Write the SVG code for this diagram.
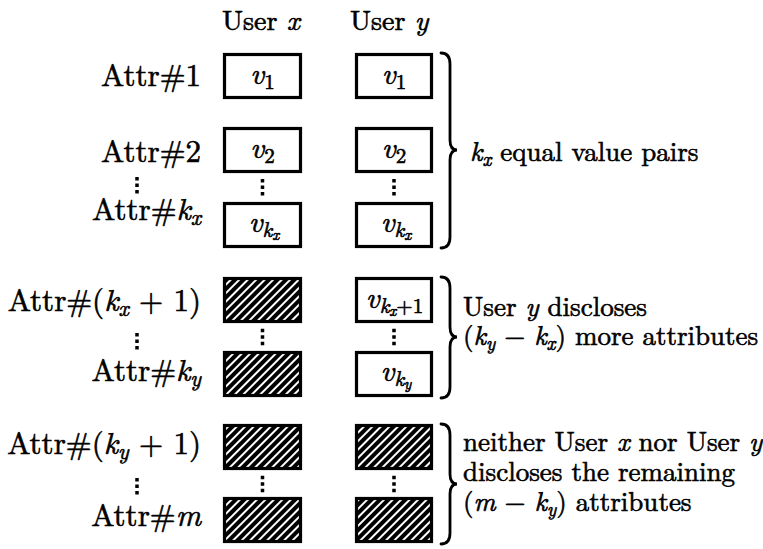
<svg xmlns="http://www.w3.org/2000/svg" width="763" height="549" viewBox="0 0 763 549">
<defs>
<pattern id="hatch" patternUnits="userSpaceOnUse" width="6" height="6" patternTransform="rotate(45)">
<rect width="6" height="6" fill="#000"/>
<rect width="2" height="6" fill="#fff"/>
</pattern>
<style>
.tx{fill:#000;stroke:#000;stroke-width:0.6}
.box{fill:#fff;stroke:#000;stroke-width:3.2}
.hatch{fill:url(#hatch);stroke:#000;stroke-width:3.2}
.dots{stroke:#000;stroke-width:3.5;stroke-dasharray:3.5 3;fill:none}
.brace{fill:none;stroke:#000;stroke-width:2.8;stroke-linecap:round}
</style>
</defs>
<rect width="763" height="549" fill="#fff"/>

<g id="headers">
<text class="tx" font-family="'Latin Modern Roman', 'Liberation Serif', serif" font-size="28" x="222" y="30">User <tspan font-style="italic">x</tspan></text>
<text class="tx" font-family="'Latin Modern Roman', 'Liberation Serif', serif" font-size="28" x="350" y="30">User <tspan font-style="italic">y</tspan></text>
</g>

<g id="row-labels">
<text class="tx" font-family="'Latin Modern Roman', 'Liberation Serif', serif" font-size="31" x="201" y="86" text-anchor="end">Attr#1</text>
<text class="tx" font-family="'Latin Modern Roman', 'Liberation Serif', serif" font-size="31" x="201" y="162" text-anchor="end">Attr#2</text>
<text class="tx" font-family="'Latin Modern Roman', 'Liberation Serif', serif" font-size="31" x="201" y="220" text-anchor="end">Attr#<tspan font-style="italic">k</tspan><tspan font-style="italic" font-size="22" dy="5">x</tspan></text>
<text class="tx" font-family="'Latin Modern Roman', 'Liberation Serif', serif" font-size="31" x="201" y="311" text-anchor="end">Attr#(<tspan font-style="italic">k</tspan><tspan font-style="italic" font-size="22" dy="5">x</tspan><tspan dy="-5"> + 1)</tspan></text>
<text class="tx" font-family="'Latin Modern Roman', 'Liberation Serif', serif" font-size="31" x="201" y="381" text-anchor="end">Attr#<tspan font-style="italic">k</tspan><tspan font-style="italic" font-size="22" dy="5">y</tspan></text>
<text class="tx" font-family="'Latin Modern Roman', 'Liberation Serif', serif" font-size="31" x="201" y="454" text-anchor="end">Attr#(<tspan font-style="italic">k</tspan><tspan font-style="italic" font-size="22" dy="5">y</tspan><tspan dy="-5"> + 1)</tspan></text>
<text class="tx" font-family="'Latin Modern Roman', 'Liberation Serif', serif" font-size="31" x="201" y="526" text-anchor="end">Attr#<tspan font-style="italic">m</tspan></text>
</g>

<g id="x-1"><rect class="box" x="224.5" y="54.5" width="76" height="43"/><text class="tx" font-family="'Latin Modern Roman', 'Liberation Serif', serif" font-size="30" font-style="italic" x="262.5" y="84" text-anchor="middle">v<tspan font-size="21" font-style="normal" dy="5">1</tspan></text></g>
<g id="y-1"><rect class="box" x="356.5" y="54.5" width="75" height="43"/><text class="tx" font-family="'Latin Modern Roman', 'Liberation Serif', serif" font-size="30" font-style="italic" x="394" y="84" text-anchor="middle">v<tspan font-size="21" font-style="normal" dy="5">1</tspan></text></g>
<g id="x-2"><rect class="box" x="224.5" y="128.5" width="76" height="43"/><text class="tx" font-family="'Latin Modern Roman', 'Liberation Serif', serif" font-size="30" font-style="italic" x="262.5" y="158" text-anchor="middle">v<tspan font-size="21" font-style="normal" dy="5">2</tspan></text></g>
<g id="y-2"><rect class="box" x="356.5" y="128.5" width="75" height="43"/><text class="tx" font-family="'Latin Modern Roman', 'Liberation Serif', serif" font-size="30" font-style="italic" x="394" y="158" text-anchor="middle">v<tspan font-size="21" font-style="normal" dy="5">2</tspan></text></g>
<g id="x-kx"><rect class="box" x="224.5" y="203.5" width="76" height="43"/><text class="tx" font-family="'Latin Modern Roman', 'Liberation Serif', serif" font-size="30" font-style="italic" x="264" y="232" text-anchor="middle">v<tspan font-size="21" dy="5">k</tspan><tspan font-size="15" dy="3">x</tspan></text></g>
<g id="y-kx"><rect class="box" x="356.5" y="203.5" width="75" height="43"/><text class="tx" font-family="'Latin Modern Roman', 'Liberation Serif', serif" font-size="30" font-style="italic" x="396" y="232" text-anchor="middle">v<tspan font-size="21" dy="5">k</tspan><tspan font-size="15" dy="3">x</tspan></text></g>

<g id="x-kx1"><rect class="hatch" x="224.5" y="278.5" width="76" height="43"/></g>
<g id="y-kx1"><rect class="box" x="356.5" y="278.5" width="75" height="43"/><text class="tx" font-family="'Latin Modern Roman', 'Liberation Serif', serif" font-size="30" font-style="italic" x="394.5" y="308" text-anchor="middle">v<tspan font-size="21" dy="5">k</tspan><tspan font-size="15" dy="3">x</tspan><tspan font-size="21" font-style="normal" dy="-3">+1</tspan></text></g>
<g id="x-ky"><rect class="hatch" x="224.5" y="352.5" width="76" height="43"/></g>
<g id="y-ky"><rect class="box" x="356.5" y="352.5" width="75" height="43"/><text class="tx" font-family="'Latin Modern Roman', 'Liberation Serif', serif" font-size="30" font-style="italic" x="396" y="381" text-anchor="middle">v<tspan font-size="21" dy="5">k</tspan><tspan font-size="15" dy="3">y</tspan></text></g>

<g id="x-ky1"><rect class="hatch" x="224.5" y="425.5" width="76" height="43"/></g>
<g id="y-ky1"><rect class="hatch" x="356.5" y="425.5" width="75" height="43"/></g>
<g id="x-m"><rect class="hatch" x="224.5" y="498.5" width="76" height="43"/></g>
<g id="y-m"><rect class="hatch" x="356.5" y="498.5" width="75" height="43"/></g>

<g id="connectors">
<line class="dots" x1="137" y1="177" x2="137" y2="193.5"/>
<line class="dots" x1="137" y1="333" x2="137" y2="349.5"/>
<line class="dots" x1="137" y1="478" x2="137" y2="494.5"/>
<line class="dots" x1="262.5" y1="179" x2="262.5" y2="195.5"/>
<line class="dots" x1="394" y1="179" x2="394" y2="195.5"/>
<line class="dots" x1="262.5" y1="328.75" x2="262.5" y2="345.25"/>
<line class="dots" x1="394" y1="328.75" x2="394" y2="345.25"/>
<line class="dots" x1="262.5" y1="475.75" x2="262.5" y2="492.25"/>
<line class="dots" x1="394" y1="475.75" x2="394" y2="492.25"/>
</g>

<g id="brace-equal">
<path class="brace" d="M441,53 C447,53 450,57 450,64 L450,140 C450,146 452,150 457,150 C452,150 450,154 450,160 L450,237 C450,244 447,248 441,248"/>
<text class="tx" font-family="'Latin Modern Roman', 'Liberation Serif', serif" font-size="27" x="470" y="161"><tspan font-style="italic">k</tspan><tspan font-style="italic" font-size="19" dy="5">x</tspan><tspan dy="-5"> equal value pairs</tspan></text>
</g>

<g id="brace-more">
<path class="brace" d="M441,277 C447,277 450,281 450,288 L450,327 C450,333 452,337 457,337 C452,337 450,341 450,347 L450,387 C450,394 447,398 441,398"/>
<text class="tx" font-family="'Latin Modern Roman', 'Liberation Serif', serif" font-size="27" x="463" y="316">User <tspan font-style="italic">y</tspan> discloses</text>
<text class="tx" font-family="'Latin Modern Roman', 'Liberation Serif', serif" font-size="27" x="463" y="345">(<tspan font-style="italic">k</tspan><tspan font-style="italic" font-size="19" dy="5">y</tspan><tspan dy="-5"> − </tspan><tspan font-style="italic">k</tspan><tspan font-style="italic" font-size="19" dy="5">x</tspan><tspan dy="-5">) more attributes</tspan></text>
</g>

<g id="brace-neither">
<path class="brace" d="M441,424 C447,424 450,428 450,435 L450,474 C450,480 452,484 457,484 C452,484 450,488 450,494 L450,533 C450,540 447,544 441,544"/>
<text class="tx" font-family="'Latin Modern Roman', 'Liberation Serif', serif" font-size="27" x="463" y="451">neither User <tspan font-style="italic">x</tspan> nor User <tspan font-style="italic">y</tspan></text>
<text class="tx" font-family="'Latin Modern Roman', 'Liberation Serif', serif" font-size="27" x="463" y="481">discloses the remaining</text>
<text class="tx" font-family="'Latin Modern Roman', 'Liberation Serif', serif" font-size="27" x="463" y="511">(<tspan font-style="italic">m</tspan> − <tspan font-style="italic">k</tspan><tspan font-style="italic" font-size="19" dy="5">y</tspan><tspan dy="-5">) attributes</tspan></text>
</g>
</svg>
